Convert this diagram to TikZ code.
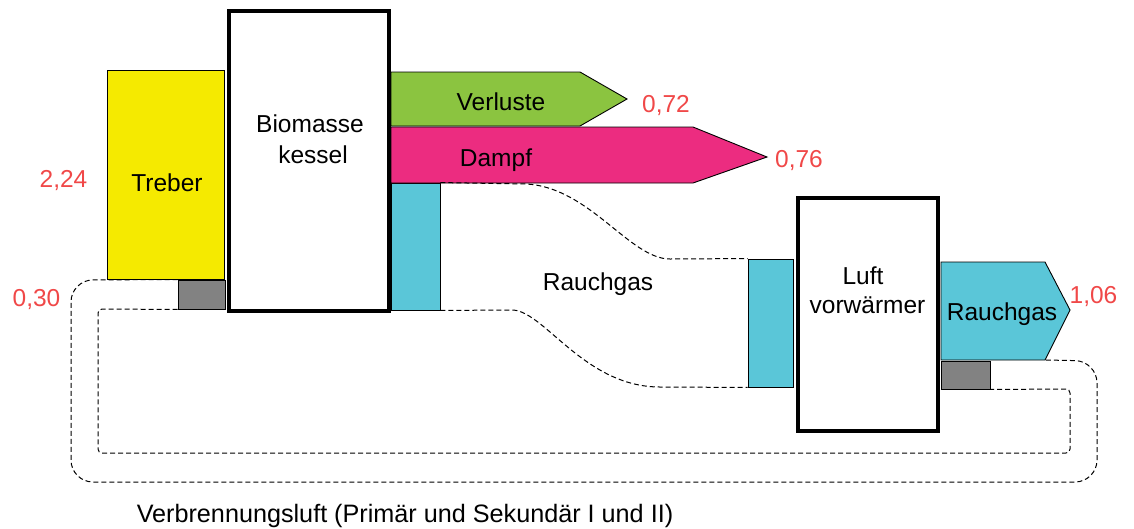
\documentclass[tikz,border=0pt]{standalone}
\usepackage{fontspec}
\setmainfont{Liberation Sans}
\definecolor{cyel}{RGB}{245,234,0}
\definecolor{cgreen}{RGB}{139,196,64}
\definecolor{cpink}{RGB}{236,44,128}
\definecolor{ccyan}{RGB}{90,198,216}
\definecolor{cgray}{RGB}{130,130,130}
\definecolor{cred}{RGB}{240,72,72}
\begin{document}
\begin{tikzpicture}[x=1pt,y=-1pt,
  every node/.style={font=\fontsize{24.5}{28}\selectfont, inner sep=0pt},
  flow/.style={draw=black, line width=0.9pt},
  block/.style={draw=black, fill=white, line width=4pt, rectangle, minimum width=#1},
  bar/.style={draw=black, line width=0.9pt, rectangle},
  lbl/.style={anchor=base, text=black},
  val/.style={anchor=base, text=cred},
  pipe/.style={draw=black, line width=1pt, dash pattern=on 5pt off 3pt}]
\useasboundingbox (0,0) rectangle (1134,528);

% flows and bars
\node[bar, fill=cyel, minimum width=117, minimum height=209] (treber) at (165.5,174.5) {};
\node[bar, fill=cgray, minimum width=47, minimum height=29] (gray1) at (201.5,294.5) {};
\node[bar, fill=ccyan, minimum width=49, minimum height=127] (cyan1) at (415.5,246.5) {};
\node[bar, fill=ccyan, minimum width=45, minimum height=128] (cyan2) at (770.5,323) {};
\node[bar, fill=cgray, minimum width=49, minimum height=28] (gray2) at (965.5,375) {};

\draw[flow, fill=cgreen] (391,72) -- (580,72) -- (627,99) -- (580,126) -- (391,126) -- cycle;
\draw[flow, fill=cpink] (391,127) -- (693,127) -- (767,157) -- (693,183) -- (391,183) -- cycle;
\coordinate (rgtail) at (1045,360);
\draw[flow, fill=ccyan] (941,262) -- (1045,262) -- (1070,310) -- (rgtail) -- (941,360) -- cycle;

% blocks
\node[block=160, minimum height=300] (kessel) at (309,161) {};
\node[block=140, minimum height=233] (luft) at (868,314.5) {};

% texts
\node[lbl] (tTreber) at (167,191) {Treber};
\node[lbl] (tBio) at (310,132) {Biomasse};
\node[lbl] (tKes) at (313,163) {kessel};
\node[lbl] (tVer) at (501,110) {Verluste};
\node[lbl] (tDampf) at (496,166) {Dampf};
\node[lbl] (tRauch) at (598,290) {Rauchgas};
\node[lbl] (tLuft) at (863,284) {Luft};
\node[lbl] (tVorw) at (867.5,313) {vorwärmer};
\node[lbl] (tRauch2) at (1002,320) {Rauchgas};
\node[lbl, font=\fontsize{25.2}{28}\selectfont] (tVerbr) at (405,522) {Verbrennungsluft (Primär und Sekundär I und II)};

\node[val] (v224) at (63.5,187) {2,24};
\node[val] (v030) at (36.5,306) {0,30};
\node[val] (v072) at (666,112) {0,72};
\node[val] (v076) at (799,167) {0,76};
\node[val] (v106) at (1093.5,303) {1,06};

% pipes
\draw[pipe] (cyan1.north east) -- (527,184) .. controls (590,188) and (630,259) .. (670,259) -- (cyan2.north west);
\draw[pipe] (cyan1.south east) -- (513,310) .. controls (545,312) and (585,387) .. (660,387) -- (cyan2.south west);
\draw[pipe, rounded corners=22] (gray1.north west) -- (71,280) -- (71,482) -- (1097,482) -- (1097,361) -- (rgtail);
\draw[pipe, rounded corners=4] (gray1.south west) -- (98,309) -- (98,453) -- (1070,453) -- (1070,389) -- (gray2.south east);
\end{tikzpicture}
\end{document}
